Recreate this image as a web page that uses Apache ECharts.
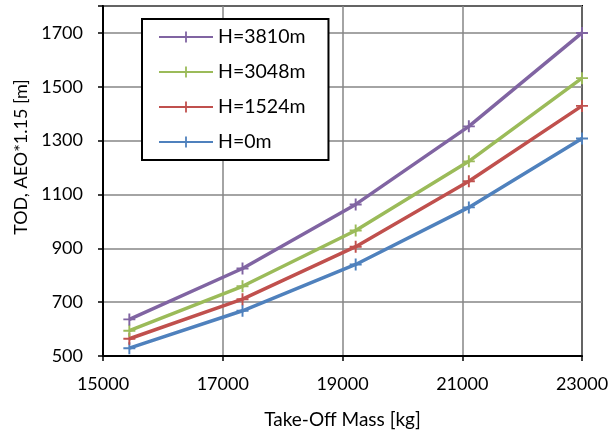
<!DOCTYPE html>
<html><head><meta charset="utf-8">
<script src="https://cdn.jsdelivr.net/npm/echarts@6/dist/echarts.min.js"></script>
<style>html,body{margin:0;padding:0;background:#fff}#c{width:616px;height:434px}</style>
</head><body><div id="c"></div>
<script>
const mass = [15440, 17330, 19220, 21110, 23000];
const h0 = [529, 668, 840, 1052, 1308];
const h1524 = [564, 711, 906, 1149, 1429];
const h3048 = [594, 759, 966, 1223, 1532];
const h3810 = [636, 825, 1063, 1353, 1700];
const seriesNames = ['H=3810m', 'H=3048m', 'H=1524m', 'H=0m'];
const seriesVals = [h3810, h3048, h1524, h0];
const xTicks = [15000, 17000, 19000, 21000, 23000];
const yTicks = [500, 700, 900, 1100, 1300, 1500, 1700];
const colors = ['#8064A2', '#9BBB59', '#C0504D', '#4F81BD'];
const FONT = 'Lato';
const plus = 'path://M0,4.2H10V5.8H0Z M4.2,0H5.8V10H4.2Z';

const chart = echarts.init(document.getElementById('c'), null, {renderer: 'canvas'});
const series = seriesNames.map((n, i) => ({
  name: n, type: 'line', symbol: plus, symbolSize: 12,
  data: mass.map((m, j) => [m, seriesVals[i][j]]),
  lineStyle: {color: colors[i], width: 3.5},
  itemStyle: {color: colors[i]},
  z: 10 - i
})).reverse();

chart.setOption({
  animation: false,
  textStyle: {fontFamily: FONT},
  grid: {left: 103, right: 34, top: 6, bottom: 75, show: true, borderColor: '#000', borderWidth: 2, containLabel: false},
  xAxis: {
    type: 'value', min: 15000, max: 23000, interval: 2000,
    name: 'Take-Off Mass [kg]', nameLocation: 'middle', nameGap: 54,
    nameTextStyle: {fontSize: 19, color: '#000', fontFamily: FONT},
    axisLine: {show: true, lineStyle: {color: '#000', width: 2}},
    axisTick: {show: true, inside: false, length: 5, lineStyle: {color: '#000', width: 1.5}},
    axisLabel: {fontSize: 18, color: '#000', margin: 19, fontFamily: FONT,
      formatter: v => xTicks.includes(v) ? String(v) : ''},
    splitLine: {show: true, lineStyle: {color: '#868686', width: 1.5}}
  },
  yAxis: {
    type: 'value', min: 500, max: 1800, interval: 200,
    name: 'TOD, AEO*1.15 [m]', nameLocation: 'middle', nameGap: 68,
    nameTextStyle: {fontSize: 18, color: '#000', fontFamily: FONT, padding: [0, 0, 0, 48]},
    axisLine: {show: true, lineStyle: {color: '#000', width: 2}},
    axisTick: {show: true, inside: false, length: 5, lineStyle: {color: '#000', width: 1.5}},
    axisLabel: {fontSize: 18, color: '#000', margin: 20, fontFamily: FONT,
      formatter: v => yTicks.includes(v) ? String(v) : ''},
    splitLine: {show: true, lineStyle: {color: '#868686', width: 1.5}}
  },
  legend: {
    data: seriesNames, orient: 'vertical', left: 142, top: 19,
    itemWidth: 54, itemHeight: 14, itemGap: 15,
    padding: [8, 17, 8, 16],
    borderColor: '#000', borderWidth: 2, backgroundColor: '#fff',
    textStyle: {fontSize: 19.5, lineHeight: 20, color: '#000', fontFamily: FONT, padding: [0, 6, 0, 0]}
  },
  series: series
});
</script></body></html>
